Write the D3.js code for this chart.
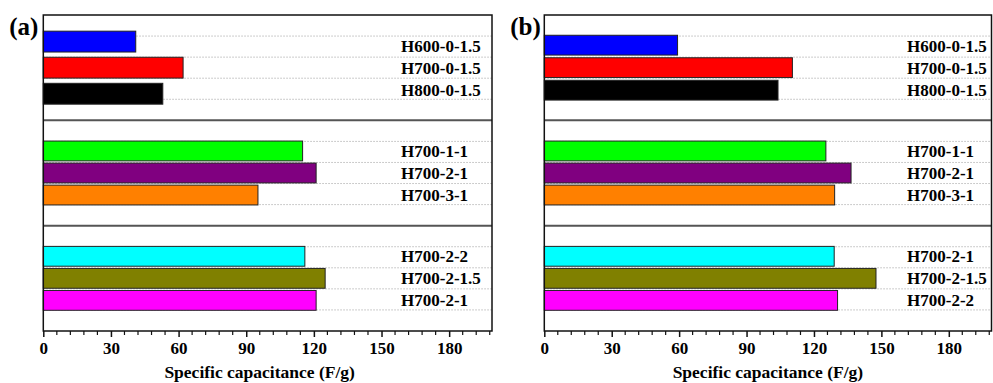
<!DOCTYPE html>
<head>
  <meta charset="utf-8">
  <script src="https://d3js.org/d3.v7.min.js"></script>
  <style>
    body { margin: 0; background: #fff; }
    text { font-family: "Times New Roman", "Liberation Serif", serif; font-weight: bold; fill: #000; }
  </style>
</head>
<body>
<svg width="993" height="383"></svg>
<script>
// panel (a)
var namesA = [
  ["H600-0-1.5", "H700-0-1.5", "H800-0-1.5"],
  ["H700-1-1", "H700-2-1", "H700-3-1"],
  ["H700-2-2", "H700-2-1.5", "H700-2-1"]
];
var valuesA = [
  [41, 62, 53],
  [115, 121, 95.2],
  [116, 125, 121]
];

// panel (b)
var namesB = [
  ["H600-0-1.5", "H700-0-1.5", "H800-0-1.5"],
  ["H700-1-1", "H700-2-1", "H700-3-1"],
  ["H700-2-1", "H700-2-1.5", "H700-2-2"]
];
var valuesB = [
  [59.3, 110.4, 104],
  [125.3, 136.5, 129.2],
  [129, 147.6, 130.5]
];

var colours = [
  ["#0000ff", "#ff0000", "#000000"],
  ["#00ff00", "#800080", "#ff8000"],
  ["#00ffff", "#808000", "#ff00ff"]
];

var majorTicks = [0, 30, 60, 90, 120, 150, 180];
var xMax = 199;

var svg = d3.select("svg");

var panels = [
  {tag: "(a)", names: namesA, values: valuesA, left: 43.3, right: 492, labelX: 401, titleShift: -8,
   pads: [[0.2, 0.62], [0.1, 0.94], [0.1, 0.94]]},
  {tag: "(b)", names: namesB, values: valuesB, left: 544.3, right: 991.5, labelX: 907, titleShift: 0,
   pads: [[0.12, 0.9], [0.1, 0.94], [0.1, 0.94]]}
];

var plotTop = 15, plotBottom = 331;
var groupH = (plotBottom - plotTop) / 3;

panels.forEach(function(p) {
  var x = d3.scaleLinear().domain([0, xMax]).range([p.left, p.right]);
  var g = svg.append("g");

  p.names.forEach(function(names, gi) {
    var g0 = plotTop + gi * groupH, g1 = g0 + groupH;

    // dotted grid, 4 per group
    g.selectAll(null)
        .data([1, 2, 3, 4])
      .enter().append("line")
        .attr("x1", p.left).attr("x2", p.right)
        .attr("y1", function(k) { return g0 + k * groupH / 5; })
        .attr("y2", function(k) { return g0 + k * groupH / 5; })
        .attr("stroke", "#bbb")
        .attr("stroke-width", 1)
        .attr("stroke-dasharray", "1.5,1.5");

    var yBar = d3.scaleBand().domain(names.map(function(d, i) { return i; }))
        .range([g0, g1]).paddingInner(p.pads[gi][0]).paddingOuter(p.pads[gi][1]);
    var yLab = d3.scaleBand().domain(names.map(function(d, i) { return i; }))
        .range([g0, g1]).paddingInner(0.1).paddingOuter(0.94);

    g.selectAll(null)
        .data(p.values[gi])
      .enter().append("rect")
        .attr("x", x(0))
        .attr("y", function(d, i) { return yBar(i); })
        .attr("width", function(d) { return x(d) - x(0); })
        .attr("height", yBar.bandwidth())
        .attr("fill", function(d, i) { return colours[gi][i]; })
        .attr("stroke", "#222")
        .attr("stroke-width", 1);

    g.selectAll(null)
        .data(names)
      .enter().append("text")
        .attr("x", p.labelX)
        .attr("y", function(d, i) { return yLab(i) + yLab.bandwidth() / 2; })
        .attr("dy", "0.35em")
        .style("font-size", "17px")
        .text(function(d) { return d; });

    if (gi > 0) {
      g.append("line")
        .attr("x1", p.left).attr("x2", p.right)
        .attr("y1", g0).attr("y2", g0)
        .attr("stroke", "#555")
        .attr("stroke-width", 2);
    }
  });

  // frame
  g.append("rect")
    .attr("x", p.left).attr("y", plotTop)
    .attr("width", p.right - p.left).attr("height", plotBottom - plotTop)
    .attr("fill", "none")
    .attr("stroke", "#111")
    .attr("stroke-width", 1.5);

  // bottom axis
  var axis = d3.axisBottom(x).tickValues(majorTicks).tickSize(6).tickPadding(5);
  var ax = g.append("g")
      .attr("transform", "translate(0," + plotBottom + ")")
      .call(axis);
  ax.select(".domain").remove();
  ax.selectAll(".tick line").attr("stroke", "#111").attr("stroke-width", 1.5);
  ax.selectAll(".tick text")
      .attr("font-family", null)
      .style("font-size", "17px");

  g.selectAll(null)
      .data(d3.range(0, xMax, 6).filter(function(v) { return v % 30 != 0; }))
    .enter().append("line")
      .attr("x1", function(d) { return x(d); }).attr("x2", function(d) { return x(d); })
      .attr("y1", plotBottom).attr("y2", plotBottom + 4)
      .attr("stroke", "#111")
      .attr("stroke-width", 1.2);

  g.append("text")
    .attr("x", (p.left + p.right) / 2 + p.titleShift)
    .attr("y", 378)
    .attr("text-anchor", "middle")
    .style("font-size", "17.5px")
    .text("Specific capacitance (F/g)");

  g.append("text")
    .attr("x", p.left - 34)
    .attr("y", 35)
    .style("font-size", "25px")
    .text(p.tag);
});
</script>
</body>
